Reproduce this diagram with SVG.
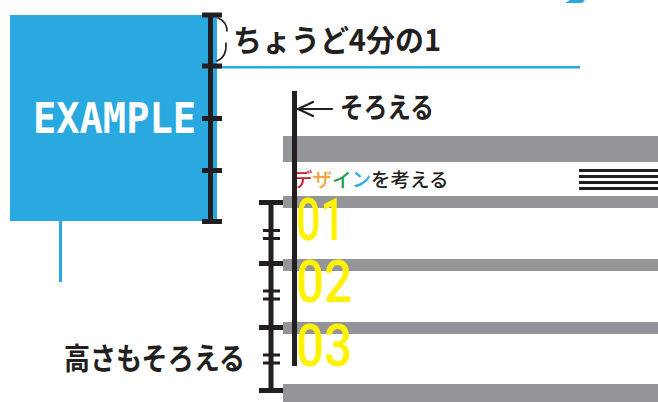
<svg xmlns="http://www.w3.org/2000/svg" width="658" height="402" viewBox="0 0 658 402">
<style>
.blk{fill:#231f20}
.gray{fill:#939598}
.blue{fill:#29a9e0}
.hand{font-family:"Noto Sans CJK JP","Noto Sans",sans-serif;font-weight:700;fill:#231f20}
.num{font-family:Roboto,"Liberation Sans",sans-serif;font-weight:500;fill:#fff200}
.ttl{font-family:"Noto Sans CJK JP","Noto Sans",sans-serif;font-weight:500;font-size:19.5px;fill:#231f20}
</style>
<rect width="658" height="402" fill="#ffffff"/>
<g id="example-box">
<rect class="blue" x="10" y="15" width="207" height="206"/>
<text x="33" y="133" font-family="DejaVu Sans Mono,monospace" font-weight="700" font-size="42" fill="#ffffff" textLength="163" lengthAdjust="spacingAndGlyphs">EXAMPLE</text>
<rect class="blue" x="59" y="221" width="3" height="61"/>
</g>
<g id="blue-lines">
<rect class="blue" x="217" y="66" width="363" height="2.5"/>
<polygon class="blue" points="570,0 585,0 582,3 565,3"/>
</g>
<g id="gray-bars">
<rect class="gray" x="283" y="136" width="375" height="26"/>
<rect class="gray" x="283" y="196" width="375" height="12"/>
<rect class="gray" x="283" y="259" width="375" height="12"/>
<rect class="gray" x="283" y="322" width="375" height="12"/>
<rect class="gray" x="283" y="384" width="375" height="18"/>
</g>
<g id="menu-icon" class="blk">
<rect x="579" y="169" width="79" height="3"/>
<rect x="579" y="175" width="79" height="3"/>
<rect x="579" y="181" width="79" height="3"/>
<rect x="579" y="187" width="79" height="3"/>
</g>
<g id="title">
<text class="ttl" x="293" y="187"><tspan fill="#c4262e">デ</tspan><tspan fill="#f5a33b">ザ</tspan><tspan fill="#1a9e4a">イ</tspan><tspan fill="#27aae1">ン</tspan>を考える</text>
</g>
<g id="numbers">
<text class="num" x="296" y="240" font-size="60" textLength="49" lengthAdjust="spacingAndGlyphs">01</text>
<text class="num" x="296" y="302" font-size="60" textLength="56" lengthAdjust="spacingAndGlyphs">02</text>
<text class="num" x="296" y="366" font-size="60" textLength="56" lengthAdjust="spacingAndGlyphs">03</text>
</g>
<g id="ruler-quarter" class="blk">
<rect x="208" y="15" width="5" height="206"/>
<rect x="202" y="12.5" width="20" height="5"/>
<rect x="202" y="63.5" width="20" height="5"/>
<rect x="202" y="116" width="20" height="5"/>
<rect x="202" y="168" width="20" height="5"/>
<rect x="202" y="219" width="20" height="5"/>
</g>
<g id="ruler-height" class="blk">
<rect x="268.5" y="202" width="5" height="189"/>
<rect x="259" y="200" width="24" height="5"/>
<rect x="259" y="261" width="24" height="5"/>
<rect x="259" y="325" width="24" height="5"/>
<rect x="259" y="388" width="24" height="5"/>
<rect x="263" y="229" width="17" height="3"/>
<rect x="263" y="237" width="17" height="3"/>
<rect x="263" y="289.5" width="17" height="3"/>
<rect x="263" y="297.5" width="17" height="3"/>
<rect x="263" y="353.5" width="17" height="3"/>
<rect x="263" y="361.5" width="17" height="3"/>
</g>
<g id="align-bar" class="blk">
<rect x="292" y="91" width="5" height="275"/>
</g>
<g id="connectors" fill="none" stroke="#231f20" stroke-linecap="round">
<path d="M218,18 Q227,22 227,31" stroke-width="1.6"/>
<path d="M226,43 Q227,57 217,61" stroke-width="1.6"/>
<path d="M298,109 H332 M313,102 L298,109 L313,116" stroke-width="2.2"/>
</g>
<g id="labels">
<text class="hand" x="233" y="51" font-size="30" textLength="208" lengthAdjust="spacingAndGlyphs">ちょうど4分の1</text>
<text class="hand" x="340" y="118" font-size="28" textLength="94" lengthAdjust="spacingAndGlyphs">そろえる</text>
<text class="hand" x="64" y="369" font-size="30" textLength="181" lengthAdjust="spacingAndGlyphs">高さもそろえる</text>
</g>
</svg>
